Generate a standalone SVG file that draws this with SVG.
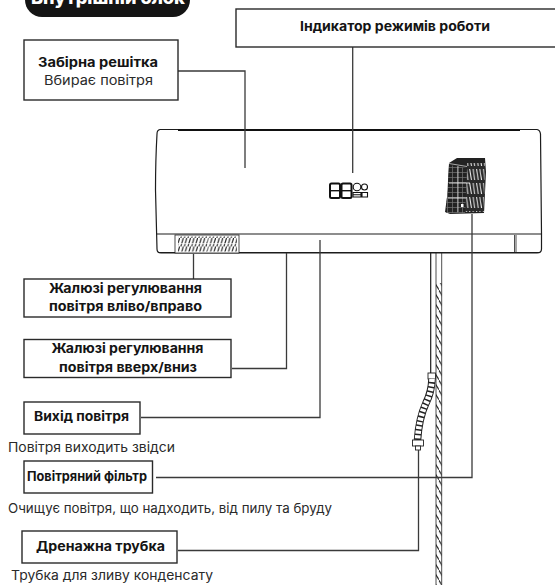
<svg xmlns="http://www.w3.org/2000/svg" width="555" height="585" viewBox="0 0 555 585">
<style>
text{font-family:"Inter","Liberation Sans",sans-serif;fill:#141414;text-anchor:middle}
.b{font-weight:700;font-size:13px}
.r{font-size:13px;font-weight:400;fill:#2a2a2a}
.box{fill:#fff;stroke:#2a2a2a;stroke-width:1.4}
.c{fill:none;stroke:#3a3a3a;stroke-width:1.3}
.u{fill:none;stroke:#1c1c1c;stroke-width:1.2}
.t{fill:none;stroke:#222;stroke-width:.8}
</style>
<defs>
<pattern id="gr" width="3.6" height="8.5" patternUnits="userSpaceOnUse"><path d="M3.300 0L.8 8.500" stroke="#1c1c1c" stroke-width="1.100" fill="none"/></pattern>
<pattern id="fin" width="3.4" height="14" patternUnits="userSpaceOnUse"><rect width="3.4" height="14" fill="#2a2a2a"/><path d="M.5 1L2.200 12" stroke="#eee" stroke-width="1"/></pattern>
<pattern id="mesh" width="5" height="5" patternUnits="userSpaceOnUse"><rect width="5" height="5" fill="#222"/><path d="M0 2.500H5M2.500 0V5" stroke="#777" stroke-width=".7"/></pattern>
<pattern id="rope" width="5.700" height="10" patternUnits="userSpaceOnUse"><path d="M-.5 -.5L6.200 10.500" stroke="#222" stroke-width="1.100" fill="none"/></pattern>
</defs>
<g id="unit">
<path class="u" d="M160 129.500H537Q540 130 540.500 134L541.500 234V249Q541.500 253 537 253H161Q157 253 157 249L155.500 190Q155.500 160 157 134Q157 130 160 129.500Z"/>
<path d="M178 130H520" stroke="#111" stroke-width="1.800"/>
<path class="u" d="M157 234H541"/>
<path class="u" d="M158 252.500H540"/>
<path class="t" d="M514.500 235V252M516 235V252"/>
<rect x="175" y="235" width="64" height="18" fill="#fff" stroke="#222" stroke-width=".8"/>
<rect x="178" y="236.500" width="59" height="15" fill="url(#gr)"/>
<path d="M178 243.700H237M208 236V252" stroke="#fff" stroke-width=".8"/>
<g id="display" fill="none" stroke="#111">
<rect x="330" y="183.500" width="10" height="14.500" rx="1.500" stroke-width="2"/><path d="M330 190.700H340" stroke-width="1.400"/>
<rect x="341.500" y="183.500" width="10" height="14.500" rx="1.500" stroke-width="2"/><path d="M341.500 190.700H351.500" stroke-width="1.400"/>
<circle cx="357" cy="187" r="3.800" stroke-width="1.100"/><circle cx="364.500" cy="187" r="3" stroke-width="1.100"/>
<path d="M353 192.500H361V197H353ZM362 192.500H367.500V197H362ZM353 194.700H361" stroke-width="1.100"/>
</g>
<g id="filter">
<path d="M457 158L485 158L486 172L484 213L450 214L445 212L448 190L449 163Z" fill="#222"/>
<path d="M467 163H485L484 212H464Z" fill="url(#fin)"/>
<path d="M449 165L467 168L465 213H446Z" fill="url(#mesh)"/>
<path d="M449 163.500L467 166.500" stroke="#aaa" stroke-width="1"/>
<path d="M449 183H470M448 198H466" stroke="#fff" stroke-width=".8"/>
<path d="M458 166V212" stroke="#fff" stroke-width=".6"/>
<rect x="461" y="204" width="2.500" height="3" fill="#fff"/>
</g>
</g>
<g id="pipes">
<path class="u" d="M430.700 253V373"/>
<path class="t" d="M436 253V585M441.700 253V585"/>
<rect x="436" y="283" width="5.700" height="302" fill="url(#rope)"/>
<rect x="428" y="373" width="7.500" height="6" fill="#fff" stroke="#222" stroke-width=".9"/>
<path d="M432 379Q431.500 392 426 403Q419 418 417.500 440" fill="none" stroke="#222" stroke-width="7.500"/>
<path d="M432 379Q431.500 392 426 403Q419 418 417.500 440" fill="none" stroke="#fff" stroke-width="5.600" stroke-dasharray="3 1.500"/>
<rect x="412.500" y="440" width="11" height="6" fill="#fff" stroke="#222" stroke-width=".9"/>
<rect x="415.500" y="446" width="5" height="4" fill="#fff" stroke="#222" stroke-width=".9"/>
</g>
<g id="connectors">
<path class="c" d="M178 71H245V168"/>
<path class="c" d="M352.700 47V173"/>
<path class="c" d="M193.500 254V279"/>
<path class="c" d="M232 368.500H286.500V253"/>
<path class="c" d="M141 417.500H320V240"/>
<path class="c" d="M156 477.500H472V214"/>
<path class="c" d="M178 550.500H418.500V450"/>
</g>
<g id="pill"><path d="M25 -5H190V0A17 17 0 0 1 173 17H42A17 17 0 0 1 25 0Z" fill="#141414"/><text x="108" y="4" textLength="154" lengthAdjust="spacingAndGlyphs" style="fill:#fff;font-weight:800;font-size:18px">Внутрішній блок</text></g>
<g id="n-grille"><rect class="box" x="24" y="40" width="154" height="60"/><text class="b" x="98" y="67" textLength="120" lengthAdjust="spacingAndGlyphs">Забірна решітка</text><text class="r" x="98.500" y="84.500" textLength="109" lengthAdjust="spacingAndGlyphs">Вбирає повітря</text></g>
<g id="n-indicator"><rect class="box" x="236" y="9" width="330" height="38"/><text class="b" x="395" y="31" textLength="190" lengthAdjust="spacingAndGlyphs">Індикатор режимів роботи</text></g>
<g id="n-lr"><rect class="box" x="24" y="279" width="207" height="38"/><text class="b" x="125.500" y="293" textLength="153" lengthAdjust="spacingAndGlyphs">Жалюзі регулювання</text><text class="b" x="125.500" y="311" textLength="153" lengthAdjust="spacingAndGlyphs">повітря вліво/вправо</text></g>
<g id="n-ud"><rect class="box" x="24" y="339.500" width="207" height="38"/><text class="b" x="127.500" y="353" textLength="152" lengthAdjust="spacingAndGlyphs">Жалюзі регулювання</text><text class="b" x="128" y="372" textLength="138" lengthAdjust="spacingAndGlyphs">повітря вверх/вниз</text></g>
<g id="n-out"><rect class="box" x="24" y="402" width="116" height="32"/><text class="b" x="81.500" y="421" textLength="95" lengthAdjust="spacingAndGlyphs">Вихід повітря</text></g>
<text class="r" x="91.500" y="452" textLength="167" lengthAdjust="spacingAndGlyphs">Повітря виходить звідси</text>
<g id="n-filter"><rect class="box" x="24" y="461" width="128.500" height="32"/><text class="b" x="87" y="481" textLength="120" lengthAdjust="spacingAndGlyphs">Повітряний фільтр</text></g>
<text class="r" x="170" y="513" textLength="324" lengthAdjust="spacingAndGlyphs">Очищує повітря, що надходить, від пилу та бруду</text>
<g id="n-drain"><rect class="box" x="22" y="531" width="155" height="32"/><text class="b" x="100.500" y="551" textLength="129" lengthAdjust="spacingAndGlyphs">Дренажна трубка</text></g>
<text class="r" x="112" y="580" textLength="202" lengthAdjust="spacingAndGlyphs">Трубка для зливу конденсату</text>
</svg>
